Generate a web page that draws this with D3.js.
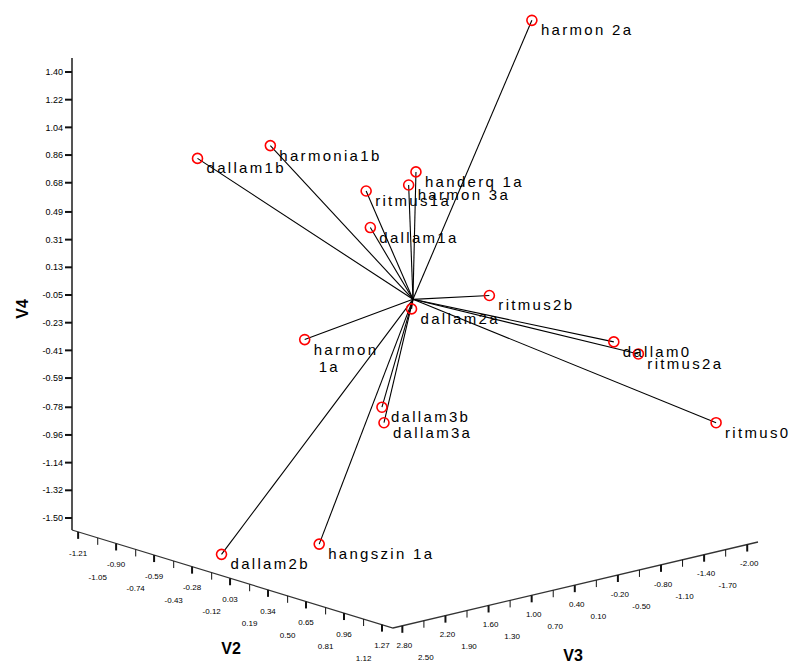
<!DOCTYPE html>
<html>
<head>
<meta charset="utf-8">
<script src="https://cdn.jsdelivr.net/npm/d3@7"></script>
<style>
  body { margin: 0; background: #fff; }
  svg { display: block; }
</style>
</head>
<body>
<svg width="795" height="664"></svg>
<script>
// point names and coordinates (V2, V3, V4)
const names = ["harmon 2a", "harmonia1b", "dallam1b", "handerq 1a", "harmon 3a", "ritmus1a",
  "dallam1a", "ritmus2b", "dallam2a", "harmon|1a", "dallam0", "ritmus2a", "dallam3b",
  "dallam3a", "ritmus0", "dallam2b", "hangszin 1a"];
const v2 = [0.57, -0.21, -0.74, 0.31, 0.18, 0.05, -0.08, 0.44, 0.18, -0.34, 0.84, 0.97, 0.05, -0.08, 1.10, -0.11, 0.57];
const v3 = [-0.35, 1.96, 2.07, 0.82, 0.70, 1.07, 0.79, 0.02, 0.66, 1.26, -1.03, -1.15, 0.85, 0.60, -2.01, 2.81, 2.61];
const v4 = [1.82, 1.07, 0.87, 0.90, 0.77, 0.74, 0.44, 0.04, -0.04, -0.30, -0.28, -0.34, -0.69, -0.85, -0.85, -1.47, -1.26];
const centroid = [0.18, 0.64, 0.02];

const v2Ticks = ["-1.21", "-1.05", "-0.90", "-0.74", "-0.59", "-0.43", "-0.28", "-0.12", "0.03",
  "0.19", "0.34", "0.50", "0.65", "0.81", "0.96", "1.12", "1.27"];
const v3Ticks = ["2.80", "2.50", "2.20", "1.90", "1.60", "1.30", "1.00", "0.70", "0.40",
  "0.10", "-0.20", "-0.50", "-0.80", "-1.10", "-1.40", "-1.70", "-2.00"];
const v4Ticks = ["1.40", "1.22", "1.04", "0.86", "0.68", "0.49", "0.31", "0.13", "-0.05",
  "-0.23", "-0.41", "-0.59", "-0.78", "-0.96", "-1.14", "-1.32", "-1.50"];

const svg = d3.select("svg");

// front corner of the floor and the two floor axes
const front = [393, 628];
const x2 = d3.scaleLinear().domain([-1.26, 1.36]).range([-321, 0]);
const y2 = d3.scaleLinear().domain([-1.26, 1.36]).range([-98, 0]);
const x3 = d3.scaleLinear().domain([2.93, -2.15]).range([0, 365]);
const y3 = d3.scaleLinear().domain([2.93, -2.15]).range([0, -86]);
const h4 = d3.scaleLinear().domain([-1.5, 1.4]).range([12, 458]);

function project(a, b, c) {
  return [front[0] + x2(a) + x3(b), front[1] + y2(a) + y3(b) - h4(c)];
}
function floor(a, b) {
  return [front[0] + x2(a) + x3(b), front[1] + y2(a) + y3(b)];
}

const v2min = x2.domain()[0], v2max = x2.domain()[1];
const v3min = x3.domain()[1], v3max = x3.domain()[0];
const font = "Liberation Sans, Arial";

// axes
const L = floor(v2min, v3max), F = floor(v2max, v3max), R = floor(v2max, v3min);
const g = svg.append("g");
g.append("line").attr("x1", L[0]).attr("y1", L[1]).attr("x2", L[0]).attr("y2", L[1] - 472)
  .attr("stroke", "#555").attr("stroke-width", 2);
g.append("polyline").attr("points", [L, F, R].map(p => p.join(",")).join(" "))
  .attr("fill", "none").attr("stroke", "#333").attr("stroke-width", 1.3);

// V4 ticks
v4Ticks.forEach(t => {
  const y = L[1] - h4(+t);
  g.append("line").attr("x1", L[0] - 7).attr("x2", L[0]).attr("y1", y).attr("y2", y)
    .attr("stroke", "#111").attr("stroke-width", 2);
  g.append("text").attr("x", L[0] - 9).attr("y", y).attr("dy", "0.35em")
    .attr("text-anchor", "end").attr("font-size", 9).attr("font-family", font)
    .text(t);
});

// V2 ticks
v2Ticks.forEach((t, i) => {
  const p = floor(+t, v3max);
  g.append("line").attr("x1", p[0]).attr("x2", p[0]).attr("y1", p[1]).attr("y2", p[1] + 7)
    .attr("stroke", "#111").attr("stroke-width", i % 2 ? 1 : 2);
  g.append("text").attr("x", p[0]).attr("y", p[1] + (i % 2 ? 39 : 21)).attr("dy", "0.35em")
    .attr("text-anchor", "middle").attr("font-size", 8).attr("font-family", font)
    .text(t);
});

// V3 ticks
v3Ticks.forEach((t, i) => {
  const p = floor(v2max, +t);
  g.append("line").attr("x1", p[0]).attr("x2", p[0]).attr("y1", p[1]).attr("y2", p[1] + 7)
    .attr("stroke", "#111").attr("stroke-width", i % 2 ? 1 : 2);
  g.append("text").attr("x", p[0] + 2).attr("y", p[1] + (i % 2 ? 36 : 19)).attr("dy", "0.35em")
    .attr("text-anchor", "middle").attr("font-size", 8).attr("font-family", font)
    .text(t);
});

// axis titles
g.append("text").attr("transform", "translate(22,309) rotate(-90)").attr("text-anchor", "middle")
  .attr("dy", "0.35em").attr("font-size", 16).attr("font-weight", "bold").attr("font-family", font).text("V4");
g.append("text").attr("x", 231).attr("y", 648).attr("text-anchor", "middle")
  .attr("dy", "0.35em").attr("font-size", 16).attr("font-weight", "bold").attr("font-family", font).text("V2");
g.append("text").attr("x", 573).attr("y", 655).attr("text-anchor", "middle")
  .attr("dy", "0.35em").attr("font-size", 16).attr("font-weight", "bold").attr("font-family", font).text("V3");

// spikes to the centroid
const pts = names.map((n, i) => ({ name: n, p: project(v2[i], v3[i], v4[i]) }));
const c = project(centroid[0], centroid[1], centroid[2]);

svg.append("g").selectAll("line").data(pts).join("line")
  .attr("x1", d => d.p[0]).attr("y1", d => d.p[1])
  .attr("x2", c[0]).attr("y2", c[1])
  .attr("stroke", "#000").attr("stroke-width", 1.1);

svg.append("g").selectAll("circle").data(pts).join("circle")
  .attr("cx", d => d.p[0]).attr("cy", d => d.p[1]).attr("r", 5)
  .attr("fill", "none").attr("stroke", "#f00").attr("stroke-width", 1.6);

const lab = svg.append("g").selectAll("text").data(pts).join("text")
  .attr("x", d => d.p[0] + 9).attr("y", d => d.p[1] + 15)
  .attr("font-size", 15).attr("letter-spacing", 2.3)
  .attr("font-family", font);
lab.each(function(d) {
  const parts = d.name.split("|");
  d3.select(this).selectAll("tspan").data(parts).join("tspan")
    .attr("x", (s, i) => d.p[0] + 9 + i * 5)
    .attr("dy", (s, i) => i ? 17 : 0)
    .text(s => s);
});
</script>
</body>
</html>
